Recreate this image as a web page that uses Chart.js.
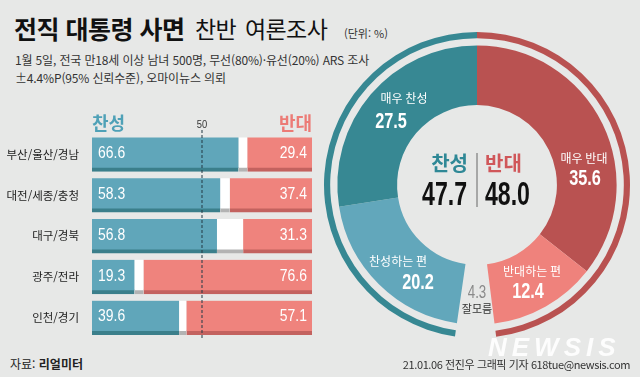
<!DOCTYPE html>
<html lang="ko">
<head>
<meta charset="utf-8">
<script src="https://cdn.jsdelivr.net/npm/chart.js@4.4.1/dist/chart.umd.min.js"></script>
<style>
  body { margin: 0; }
  #wrap { position: relative; width: 640px; height: 377px; background: #e7e8e7; overflow: hidden;
          font-family: "Noto Sans CJK KR", sans-serif; color: #222; }
  .t { position: absolute; white-space: nowrap; }
  #barCanvas { position: absolute; left: 0; top: 100px; }
  #pieCanvas { position: absolute; left: 320px; top: 26px; }
</style>
</head>
<body>
<div id="wrap">
  <div class="t" style="left:14px;top:12px;font-size:25px;line-height:32px;letter-spacing:-0.5px;color:#111;font-weight:bold;">전직 대통령 사면</div>
  <div class="t" style="left:195px;top:13px;font-size:23px;line-height:30px;letter-spacing:-0.6px;word-spacing:3px;color:#111;">찬반 여론조사</div>
  <div class="t" style="left:344px;top:25px;font-size:11px;line-height:16px;color:#333;">(단위: %)</div>
  <div class="t" style="left:15px;top:52px;font-size:12px;line-height:16px;color:#333;letter-spacing:-0.15px;">1월 5일, 전국 만18세 이상 남녀 500명, 무선(80%)·유선(20%) ARS 조사</div>
  <div class="t" style="left:15px;top:70px;font-size:12px;line-height:16px;color:#333;letter-spacing:-0.15px;">±4.4%P(95% 신뢰수준), 오마이뉴스 의뢰</div>

  <canvas id="barCanvas" width="330" height="250"></canvas>
  <canvas id="pieCanvas" width="314" height="318"></canvas>

  <div class="t" style="left:488px;top:333px;font-family:'Liberation Sans',sans-serif;font-weight:bold;font-style:italic;font-size:26px;line-height:28px;letter-spacing:5px;color:rgba(255,255,255,0.9);">NEWSIS</div>
  <div class="t" style="left:10px;top:356px;font-size:12px;line-height:16px;color:#222;">자료: <b>리얼미터</b></div>
  <div class="t" style="right:10px;top:357px;font-size:11px;line-height:15px;color:#333;letter-spacing:-0.4px;">21.01.06 전진우 그래픽 기자 618tue@newsis.com</div>
</div>

<script>
// 지역별 찬반
var regions = ['부산/울산/경남', '대전/세종/충청', '대구/경북', '광주/전라', '인천/경기'];
var agree = [66.6, 58.3, 56.8, 19.3, 39.6];
var unsure = [4.0, 4.3, 11.9, 4.1, 3.3];
var disagree = [29.4, 37.4, 31.3, 76.6, 57.1];

// 전체 응답 (12시 방향부터 시계방향)
var pieLabels = ['매우 반대', '반대하는 편', '잘모름', '찬성하는 편', '매우 찬성'];
var pieValues = [35.6, 12.4, 4.3, 20.2, 27.5];
var totalLabels = ['반대', '잘모름', '찬성'];
var totalValues = [48.0, 4.3, 47.7];

var SANS = '"Liberation Sans", Arial, sans-serif';
var KR = '"Noto Sans CJK KR", sans-serif';

// 좁은 숫자 글꼴 대신 가로로 눌러서 그림
function narrow(ctx, txt, x, y, align, sx) {
  ctx.save();
  ctx.translate(x, y);
  ctx.scale(sx, 1);
  ctx.textAlign = align;
  ctx.fillText(txt, 0, 0);
  ctx.restore();
}

var barText = {
  id: 'barText',
  afterDatasetsDraw: function(chart) {
    var ctx = chart.ctx, area = chart.chartArea;
    var x50 = chart.scales.x.getPixelForValue(50);
    ctx.save();
    ctx.strokeStyle = 'rgba(35,60,70,0.85)';
    ctx.lineWidth = 1.2;
    ctx.setLineDash([3, 2]);
    ctx.beginPath();
    ctx.moveTo(x50, 30);
    ctx.lineTo(x50, 240);
    ctx.stroke();
    ctx.setLineDash([]);

    ctx.textBaseline = 'middle';
    ctx.font = '11px ' + SANS;
    ctx.fillStyle = '#333';
    narrow(ctx, '50', x50, 25, 'center', 0.85);

    ctx.font = 'bold 18px ' + KR;
    ctx.fillStyle = '#4fa1b7';
    ctx.textAlign = 'left';
    ctx.fillText('찬성', area.left, 23);
    ctx.fillStyle = '#ec7b76';
    ctx.textAlign = 'right';
    ctx.fillText('반대', area.right, 23);

    ctx.font = '17px ' + SANS;
    ctx.fillStyle = '#fff';
    var a = chart.getDatasetMeta(0).data, d = chart.getDatasetMeta(2).data;
    for (var i = 0; i < regions.length; i++) {
      narrow(ctx, agree[i].toFixed(1), a[i].base + 6, a[i].y - 1, 'left', 0.82);
      narrow(ctx, disagree[i].toFixed(1), d[i].x - 5, d[i].y - 1, 'right', 0.82);
    }
    ctx.restore();
  }
};

var barStyle = {
  barThickness: 34,
  borderSkipped: false,
  borderWidth: { top: 0, right: 0, bottom: 4, left: 0 }
};

new Chart(document.getElementById('barCanvas'), {
  type: 'bar',
  data: {
    labels: regions,
    datasets: [
      Object.assign({ label: '찬성', data: agree, backgroundColor: '#60a6ba', borderColor: '#3b7f8b' }, barStyle),
      Object.assign({ label: '잘모름', data: unsure, backgroundColor: '#ffffff', borderColor: '#b3b3b3' }, barStyle),
      Object.assign({ label: '반대', data: disagree, backgroundColor: '#ef837d', borderColor: '#c3625f' }, barStyle)
    ]
  },
  options: {
    indexAxis: 'y',
    responsive: false,
    devicePixelRatio: 1,
    animation: false,
    layout: { padding: { top: 34, bottom: 8, left: 0, right: 18 } },
    plugins: { legend: { display: false }, tooltip: { enabled: false } },
    scales: {
      x: { stacked: true, min: 0, max: 100, display: false },
      y: {
        stacked: true,
        grid: { display: false },
        border: { display: false },
        afterFit: function(s) { s.width = 92; },
        ticks: { color: '#222', padding: 5, font: { family: 'Noto Sans CJK KR', size: 11.5 } }
      }
    }
  },
  plugins: [barText]
});

// 도넛 안의 글자 (페이지 좌표 - 캔버스 위치)
var OX = 320, OY = 26;
var pieText = {
  id: 'pieText',
  afterDatasetsDraw: function(chart) {
    var ctx = chart.ctx;
    var cx = (chart.chartArea.left + chart.chartArea.right) / 2;
    var cy = (chart.chartArea.top + chart.chartArea.bottom) / 2;
    ctx.save();
    ctx.textBaseline = 'middle';
    ctx.textAlign = 'center';
    function label(txt, x, y) {
      ctx.font = '12px ' + KR; ctx.fillStyle = '#fff';
      ctx.fillText(txt, x - OX, y - OY);
    }
    function value(v, x, y) {
      ctx.font = 'bold 22px ' + SANS; ctx.fillStyle = '#fff';
      narrow(ctx, v.toFixed(1), x - OX, y - OY, 'center', 0.74);
    }
    label(pieLabels[4], 404, 98);
    value(pieValues[4], 391, 122);
    label(pieLabels[0], 584, 158);
    value(pieValues[0], 585, 179);
    label(pieLabels[3], 398, 261);
    value(pieValues[3], 418, 283);
    label(pieLabels[1], 532, 271);
    value(pieValues[1], 528, 292);

    ctx.font = '18px ' + SANS;
    ctx.fillStyle = '#8a8a8a';
    narrow(ctx, pieValues[2].toFixed(1), 477 - OX, 293 - OY, 'center', 0.74);
    ctx.font = '11px ' + KR;
    ctx.fillStyle = '#333';
    ctx.fillText(pieLabels[2], 477 - OX, 309 - OY);

    // 가운데 합계
    ctx.strokeStyle = '#666';
    ctx.lineWidth = 1;
    ctx.beginPath();
    ctx.moveTo(cx, cy - 32);
    ctx.lineTo(cx, cy + 22);
    ctx.stroke();
    ctx.font = 'bold 20px ' + KR;
    ctx.textAlign = 'right';
    ctx.fillStyle = '#2f8896';
    ctx.fillText(totalLabels[2], cx - 9, cy - 22);
    ctx.textAlign = 'left';
    ctx.fillStyle = '#d0575a';
    ctx.fillText(totalLabels[0], cx + 8, cy - 22);
    ctx.font = 'bold 33px ' + SANS;
    ctx.fillStyle = '#111';
    narrow(ctx, totalValues[2].toFixed(1), cx - 10, cy + 11, 'right', 0.7);
    narrow(ctx, totalValues[0].toFixed(1), cx + 8, cy + 11, 'left', 0.7);
    ctx.restore();
  }
};

new Chart(document.getElementById('pieCanvas'), {
  type: 'doughnut',
  data: {
    labels: pieLabels,
    datasets: [
      { label: '합계', data: totalValues, weight: 6, borderWidth: 0,
        backgroundColor: ['#b95251', 'rgba(0,0,0,0)', '#378893'] },
      { label: '', data: [100], weight: 7, borderWidth: 0, backgroundColor: 'rgba(0,0,0,0)' },
      { label: '응답', data: pieValues, weight: 58, borderWidth: 0,
        backgroundColor: ['#b95251', '#ef827c', 'rgba(0,0,0,0)', '#62a7bb', '#378893'] }
    ]
  },
  options: {
    responsive: false,
    devicePixelRatio: 1,
    animation: false,
    radius: 153,
    cutout: 82,
    layout: { padding: 0 },
    plugins: { legend: { display: false }, tooltip: { enabled: false } }
  },
  plugins: [pieText]
});
</script>
</body>
</html>
